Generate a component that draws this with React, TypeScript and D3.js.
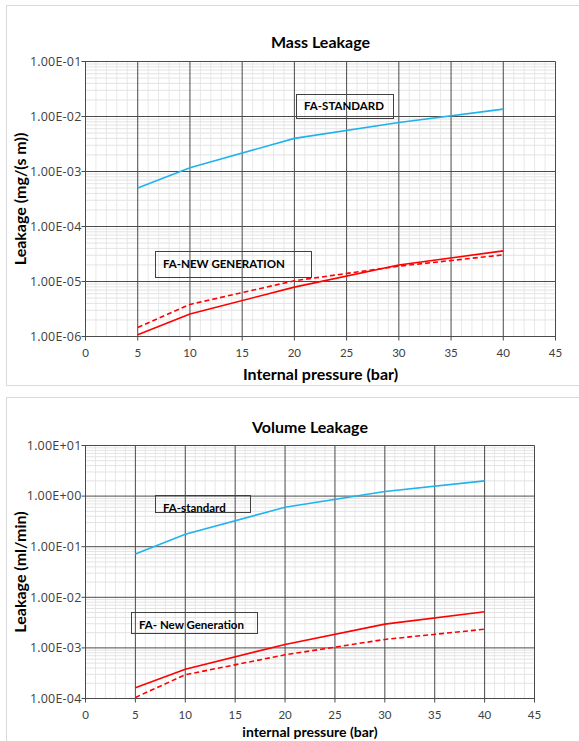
import React from "react";
import * as d3 from "d3";

// pressure points (bar)
const pressure = [5, 10, 20, 30, 40];

// Mass leakage, mg/(s m)
const massStandard = [5.0e-4, 1.17e-3, 4.0e-3, 7.8e-3, 1.36e-2];
const massNewGen = [1.08e-6, 2.56e-6, 7.9e-6, 2.0e-5, 3.6e-5];
const massNewGenDash = [1.46e-6, 3.83e-6, 1.03e-5, 1.9e-5, 3.05e-5];

// Volume leakage, ml/min
const volStandard = [0.072, 0.177, 0.6, 1.23, 2.0];
const volNewGen = [1.63e-4, 3.8e-4, 1.17e-3, 2.95e-3, 5.2e-3];
const volNewGenDash = [1.05e-4, 2.95e-4, 7.3e-4, 1.47e-3, 2.34e-3];

const xTicks = [0, 5, 10, 15, 20, 25, 30, 35, 40, 45];

const FONT = "Lato, 'Open Sans', sans-serif";
const TICK_FONT = "'Open Sans', Lato, sans-serif";
const BLUE = "#1fb3ee";
const RED = "#ff0000";

const fmtExp = (d: number) => {
  const e = Math.round(Math.log10(d));
  return `1.00E${e < 0 ? "-" : "+"}${String(Math.abs(e)).padStart(2, "0")}`;
};

type ChartProps = {
  box: { x0: number; y0: number; y1: number };
  plot: { left: number; top: number; right: number; bottom: number };
  yDomain: [number, number];
  title: string;
  titleY: number;
  yTitle: string;
  xTitle: string;
  xTitleY: number;
  xTitleSize: number;
  standard: number[];
  newGen: number[];
  newGenDash: number[];
  labels: { text: string; x: number; y: number; w: number; h: number; tx: number; ty: number }[];
};

function LogChart(p: ChartProps) {
  const { plot } = p;
  const x = d3.scaleLinear().domain([0, 45]).range([plot.left, plot.right]);
  const y = d3.scaleLog().domain(p.yDomain).range([plot.bottom, plot.top]);

  const decades = y.ticks().filter((t) => Math.abs(Math.log10(t) - Math.round(Math.log10(t))) < 1e-9);
  const minorY = y.ticks().filter((t) => !decades.includes(t));
  const minorX = d3.range(1, 45).filter((v) => v % 5 !== 0);

  const line = (vals: number[]) =>
    d3.line<number>().x((_, i) => x(pressure[i])).y((v) => y(v))(vals) || "";

  const midX = (plot.left + plot.right) / 2;
  const midY = (plot.top + plot.bottom) / 2;

  return (
    <g>
      <rect x={p.box.x0} y={p.box.y0} width={600} height={p.box.y1 - p.box.y0} fill="#fff" stroke="#d9d9d9" />
      <text x={midX} y={p.titleY} textAnchor="middle" fontWeight="bold" fontSize={16} fontFamily={FONT} fill="#000">
        {p.title}
      </text>

      {/* minor grid */}
      {minorX.map((v) => (
        <line key={"mx" + v} x1={x(v)} x2={x(v)} y1={plot.top} y2={plot.bottom} stroke="#e8e8e8" />
      ))}
      {minorY.map((v, i) => (
        <line key={"my" + i} x1={plot.left} x2={plot.right} y1={y(v)} y2={y(v)} stroke="#e3e3e3" />
      ))}

      {/* major grid */}
      {xTicks.map((v) => (
        <line key={"gx" + v} x1={x(v)} x2={x(v)} y1={plot.top} y2={plot.bottom + 4} stroke="#4a4a4a" />
      ))}
      {decades.map((v) => (
        <line key={"gy" + v} x1={plot.left - 4} x2={plot.right} y1={y(v)} y2={y(v)} stroke="#4a4a4a" />
      ))}

      {/* tick labels */}
      {xTicks.map((v) => (
        <text key={"tx" + v} x={x(v)} y={plot.bottom + 20} textAnchor="middle" fontSize={11.5} fontFamily={FONT} fill="#404040">
          {v}
        </text>
      ))}
      {decades.map((v) => (
        <text key={"ty" + v} x={plot.left - 4} y={y(v)} dy="0.35em" textAnchor="end" fontSize={12.5} fontFamily={TICK_FONT} fill="#404040" letterSpacing={0.2}>
          {fmtExp(v)}
        </text>
      ))}

      {/* axis titles */}
      <text x={midX} y={p.xTitleY} textAnchor="middle" fontWeight="bold" fontSize={p.xTitleSize} fontFamily={FONT} fill="#000">
        {p.xTitle}
      </text>
      <text transform={`translate(26,${midY}) rotate(-90)`} textAnchor="middle" fontWeight="bold" fontSize={16} fontFamily={FONT} fill="#000">
        {p.yTitle}
      </text>

      {/* series */}
      <path d={line(p.standard)} fill="none" stroke={BLUE} strokeWidth={1.6} />
      <path d={line(p.newGen)} fill="none" stroke={RED} strokeWidth={1.6} />
      <path d={line(p.newGenDash)} fill="none" stroke={RED} strokeWidth={1.6} strokeDasharray="5,3" />

      {/* labels */}
      {p.labels.map((l) => (
        <g key={l.text}>
          <rect x={l.x} y={l.y} width={l.w} height={l.h} fill="none" stroke="#404040" />
          <text x={l.tx} y={l.ty} dy="0.35em" fontWeight="bold" fontSize={11.5} fontFamily={FONT} fill="#000">
            {l.text}
          </text>
        </g>
      ))}
    </g>
  );
}

export default function App() {
  return (
    <svg width={579} height={741} style={{ position: "absolute", left: 0, top: 0 }}>
      <rect width={579} height={741} fill="#fff" />
      <LogChart
        box={{ x0: 6.5, y0: 5.5, y1: 385.5 }}
        plot={{ left: 85.5, top: 61.5, right: 555.5, bottom: 336.5 }}
        yDomain={[1e-6, 1e-1]}
        title="Mass Leakage"
        titleY={48}
        yTitle="Leakage (mg/(s m))"
        xTitle="Internal pressure (bar)"
        xTitleY={380}
        xTitleSize={16}
        standard={massStandard}
        newGen={massNewGen}
        newGenDash={massNewGenDash}
        labels={[
          { text: "FA-STANDARD", x: 296.5, y: 94.5, w: 97, h: 24, tx: 304, ty: 106 },
          { text: "FA-NEW GENERATION", x: 155.5, y: 251.5, w: 156, h: 26, tx: 163, ty: 264 },
        ]}
      />
      <LogChart
        box={{ x0: 6.5, y0: 397.5, y1: 745 }}
        plot={{ left: 85.5, top: 445.5, right: 534.5, bottom: 698.5 }}
        yDomain={[1e-4, 1e1]}
        title="Volume Leakage"
        titleY={433}
        yTitle="Leakage (ml/min)"
        xTitle="internal pressure (bar)"
        xTitleY={737}
        xTitleSize={14}
        standard={volStandard}
        newGen={volNewGen}
        newGenDash={volNewGenDash}
        labels={[
          { text: "FA-standard", x: 155.5, y: 495.5, w: 95, h: 17, tx: 163, ty: 508 },
          { text: "FA- New Generation", x: 131.5, y: 612.5, w: 126, h: 21, tx: 139, ty: 625 },
        ]}
      />
    </svg>
  );
}
